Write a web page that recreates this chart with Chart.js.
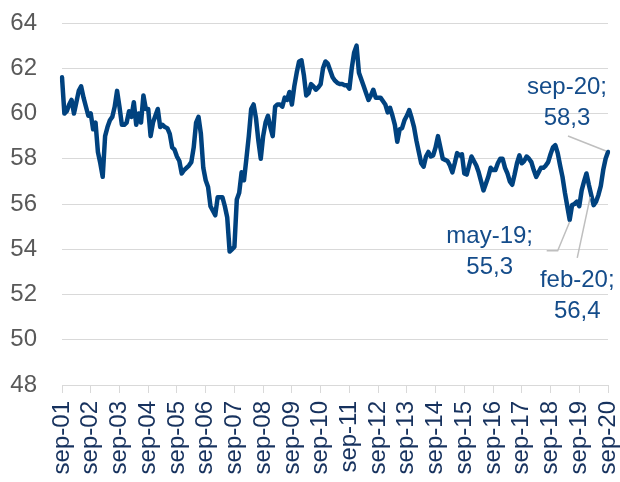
<!DOCTYPE html>
<html>
<head>
<meta charset="utf-8">
<script src="https://cdn.jsdelivr.net/npm/chart.js@4.4.0/dist/chart.umd.min.js"></script>
<style>
    html, body { margin: 0; padding: 0; background: #fff; }
</style>
</head>
<body>
<canvas id="pmiChart" width="620" height="482"></canvas>
<script>
// Monthly series, sep-01 .. sep-20
const monthNames = ['ene', 'feb', 'mar', 'abr', 'may', 'jun', 'jul', 'ago', 'sep', 'oct', 'nov', 'dic'];
const firstMonth = 8;   // sep
const firstYear = 2001;

const values = [
    61.6, 60.0, 60.1, 60.4, 60.6, 60.0, 60.5, 61.0, 61.2, 60.7, 60.3, 59.9,
    60.0, 59.3, 59.6, 58.3, 57.8, 57.2, 59.0, 59.4, 59.7, 59.85, 60.3, 61.0,
    60.3, 59.5, 59.5, 59.6, 60.1, 59.85, 60.5, 59.5, 60.0, 59.6, 60.8, 60.2,
    60.2, 59.0, 59.6, 59.9, 60.2, 59.4, 59.5, 59.4, 59.35, 59.1, 58.5, 58.4,
    58.1, 57.9, 57.35, 57.5, 57.6, 57.7, 57.85, 58.5, 59.6, 59.85, 59.1, 57.6,
    57.05, 56.75, 55.9, 55.7, 55.5, 56.3, 56.3, 56.3, 55.9, 55.4, 53.9, 54.0,
    54.1, 56.2, 56.5, 57.4, 57.05, 58.0, 59.0, 60.2, 60.4, 59.8, 58.8, 58.0,
    59.0, 59.6, 59.9, 59.4, 59.0, 60.3, 60.4, 60.4, 60.3, 60.7, 60.6, 60.95,
    60.4, 61.2, 61.8, 62.3, 62.35, 61.7, 60.8, 60.9, 61.3, 61.2, 61.05, 61.15,
    61.3, 62.0, 62.3, 62.2, 61.9, 61.6, 61.45, 61.35, 61.3, 61.3, 61.25, 61.25,
    61.1, 62.0, 62.7, 63.0, 61.8, 61.5, 61.2, 60.9, 60.6, 60.8, 61.05, 60.7,
    60.7, 60.7, 60.55, 60.4, 60.05, 60.25, 59.9, 59.5, 58.75, 59.3, 59.35, 59.7,
    59.9, 60.15, 59.8, 59.4, 58.8, 58.3, 57.8, 57.65, 58.1, 58.3, 58.1, 58.15,
    58.5, 59.0, 58.5, 58.0, 57.95, 57.9, 57.7, 57.4, 57.8, 58.25, 58.15, 58.2,
    57.35, 57.3, 57.7, 58.1, 57.9, 57.7, 57.4, 57.0, 56.6, 56.9, 57.2, 57.6,
    57.5, 57.5, 57.8, 58.0, 58.0, 57.6, 57.35, 57.0, 56.85, 57.3, 57.8, 58.15,
    57.8, 57.9, 58.1, 58.0, 57.85, 57.5, 57.2, 57.4, 57.6, 57.6, 57.7, 57.85,
    58.2, 58.5, 58.6, 58.25, 57.7, 57.2, 56.5, 55.9, 55.3, 55.95, 56.0, 56.1,
    55.9, 56.6, 57.0, 57.35, 56.85, 56.4, 55.95, 56.1, 56.4, 56.8, 57.5, 58.0,
    58.3
];

// y axis
const yMin = 48;
const yMax = 64;
const yStep = 2;

// labelled points (index into values)
const calloutIdx = [212, 221, 228];

const labels = values.map((v, i) => {
    const m = (firstMonth + i) % 12;
    const y = firstYear + Math.floor((firstMonth + i) / 12);
    return monthNames[m] + '-' + String(y).slice(2);
});

const FONT = "'Liberation Sans', Arial, sans-serif";
const LINE_COLOR = '#00427f';
const TEXT_BLUE = '#144c8a';
const GRID = '#d9d9d9';

// text position (centre) and leader line, relative to the labelled point
const calloutLayout = {
    212: { tx: -80, ty: 17, lead: [[-23, 31], [-12, 31], [0, 2]] },
    221: { tx: -14, ty: 85, lead: [[-14, 63], [-1, 2]] },
    228: { tx: -41, ty: -65, lead: [[-40, -16], [-2, -1]] }
};

const calloutPlugin = {
    id: 'callouts',
    afterDatasetsDraw(chart) {
        const { ctx, scales } = chart;
        ctx.save();
        calloutIdx.forEach(idx => {
            const lay = calloutLayout[idx];
            const px = scales.x.getPixelForValue(idx);
            const py = scales.y.getPixelForValue(values[idx]);

            // leader line
            ctx.strokeStyle = '#bfbfbf';
            ctx.lineWidth = 1.5;
            ctx.beginPath();
            lay.lead.forEach((p, k) => {
                if (k === 0) ctx.moveTo(px + p[0], py + p[1]);
                else ctx.lineTo(px + p[0], py + p[1]);
            });
            ctx.stroke();

            // text
            ctx.fillStyle = TEXT_BLUE;
            ctx.font = '24px ' + FONT;
            ctx.textAlign = 'center';
            ctx.textBaseline = 'middle';
            const valText = values[idx].toFixed(1).replace('.', ',');
            ctx.fillText(labels[idx] + ';', px + lay.tx, py + lay.ty);
            ctx.fillText(valText, px + lay.tx, py + lay.ty + 31);
        });
        ctx.restore();
    }
};

const ctx = document.getElementById('pmiChart').getContext('2d');
new Chart(ctx, {
    type: 'line',
    data: {
        labels: labels,
        datasets: [{
            data: values,
            borderColor: LINE_COLOR,
            borderWidth: 4.5,
            pointRadius: 0,
            tension: 0,
            borderJoinStyle: 'round',
            borderCapStyle: 'round',
            fill: false
        }]
    },
    options: {
        responsive: false,
        animation: false,
        devicePixelRatio: 1,
        layout: { padding: { top: 23, right: 12, bottom: 0, left: 0 } },
        plugins: {
            legend: { display: false },
            tooltip: { enabled: false }
        },
        scales: {
            x: {
                type: 'category',
                offset: false,
                grid: { drawOnChartArea: false, color: GRID, tickLength: 8 },
                border: { display: true, color: GRID },
                ticks: {
                    autoSkip: false,
                    minRotation: 90,
                    maxRotation: 90,
                    padding: 8,
                    color: '#17325e',
                    font: { family: FONT, size: 24 },
                    callback: function (val, i) {
                        return i % 12 === 0 ? this.getLabelForValue(val) : null;
                    }
                },
                afterFit(scale) {
                    scale.height = 97;
                    scale.paddingLeft = 0;
                    scale.paddingRight = 0;
                }
            },
            y: {
                min: yMin,
                max: yMax,
                grid: { color: GRID, drawTicks: false },
                border: { display: false },
                ticks: {
                    stepSize: yStep,
                    padding: 25,
                    color: '#595959',
                    font: { family: FONT, size: 24 }
                },
                afterFit(scale) {
                    scale.width = 62;
                    scale.paddingTop = 0;
                    scale.paddingBottom = 0;
                }
            }
        }
    },
    plugins: [calloutPlugin]
});
</script>
</body>
</html>
